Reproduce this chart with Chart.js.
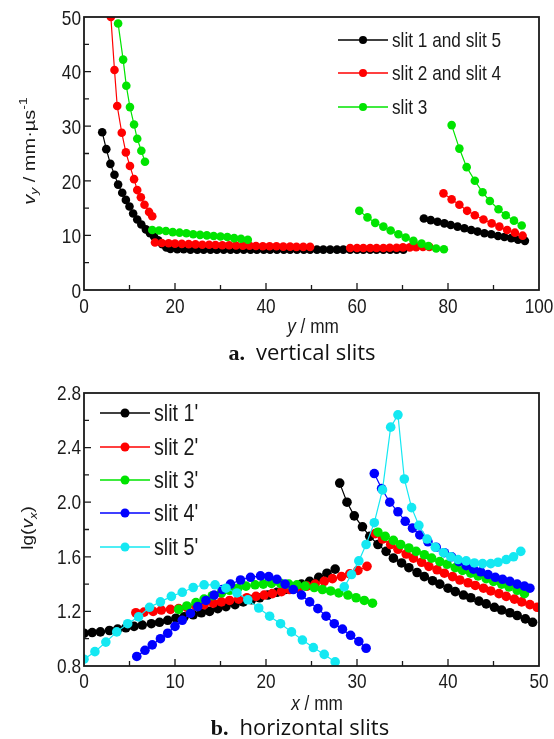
<!DOCTYPE html>
<html><head><meta charset="utf-8">
<script src="https://cdn.jsdelivr.net/npm/chart.js@4.4.1/dist/chart.umd.min.js"></script>
<style>
html,body{margin:0;padding:0;background:#fff;}
body{width:554px;height:739px;position:relative;overflow:hidden;}
canvas{position:absolute;left:0;}
#ca{top:0;}
#cb{top:372px;}
.cap{position:absolute;left:0;width:554px;box-sizing:border-box;text-align:center;font-size:22px;line-height:26px;color:#111;white-space:nowrap;}
.cap b{font-family:"Liberation Serif","DejaVu Serif",serif;font-weight:bold;}
.cap span{font-family:"Open Sans",sans-serif;}
</style></head><body>
<canvas id="ca" width="554" height="340"></canvas>
<canvas id="cb" width="554" height="343"></canvas>
<div class="cap" style="top:338px;padding-left:50px;"><b>a.</b>&nbsp; <span>vertical slits</span></div>
<div class="cap" style="top:713px;padding-left:46px;"><b>b.</b>&nbsp; <span>horizontal slits</span></div>
<script>
// ===== chart a: vertical slits =====
const aTicksX = [0,20,40,60,80,100];
const aTicksY = [0,10,20,30,40,50];
const aNames = ['slit 1 and slit 5','slit 2 and slit 4','slit 3'];
const a1X = [4.0,4.9,5.8,6.7,7.5,8.4,9.2,10.0,10.8,11.7,12.6,13.6,14.5,15.4,16.3,17.2,18.1,
  19.0,20.5,21.9,23.4,24.9,26.3,27.8,29.2,30.7,32.2,33.6,35.1,36.6,38.0,39.5,40.9,42.4,43.9,45.3,46.8,48.3,49.7,51.2,52.6,54.1,55.6,57.0,58.5,60.0,61.4,62.9,64.3,65.8,67.3,68.7,70.2,
  null,
  74.7,76.2,77.7,79.2,80.6,82.1,83.6,85.1,86.5,88.0,89.5,91.0,92.4,93.9,95.4,96.9];
const a1Y = [28.9,25.8,23.1,21.1,19.3,17.8,16.5,15.3,14.0,12.9,12.0,11.1,10.4,9.8,9.1,8.4,7.8,
  7.5,7.45,7.45,7.4,7.4,7.4,7.4,7.4,7.4,7.4,7.4,7.4,7.4,7.4,7.4,7.4,7.4,7.4,7.4,7.4,7.4,7.4,7.4,7.4,7.4,7.4,7.4,7.4,7.4,7.4,7.4,7.4,7.4,7.4,7.4,7.4,
  null,
  13.1,12.8,12.5,12.2,11.9,11.6,11.3,11.0,10.7,10.4,10.2,9.9,9.7,9.5,9.2,9.0];
const a2X = [5.9,6.7,7.3,8.3,9.2,10.1,11.0,11.7,12.5,13.3,14.3,15.0,
  null,
  15.6,17.1,18.6,20.0,21.5,23.0,24.5,26.0,27.5,28.9,30.4,31.9,33.4,34.9,36.4,37.8,39.3,40.8,42.3,43.8,45.3,46.7,48.2,49.7,
  null,
  58.5,60.0,61.4,62.9,64.3,65.8,67.2,68.7,70.1,71.6,73.0,74.5,75.9,
  null,
  79.0,80.8,82.5,84.2,85.9,87.8,89.6,91.3,93.0,94.7,96.4];
const a2Y = [50.0,40.3,33.7,28.8,25.2,22.7,20.3,18.3,17.0,15.6,14.3,13.5,
  null,
  8.7,8.6,8.55,8.5,8.45,8.4,8.35,8.3,8.3,8.25,8.2,8.2,8.15,8.1,8.1,8.05,8.0,8.0,8.0,7.95,7.95,7.9,7.9,7.9,
  null,
  7.7,7.7,7.7,7.7,7.7,7.7,7.75,7.75,7.8,7.8,7.85,7.9,7.9,
  null,
  17.7,16.6,15.6,14.5,13.7,12.9,12.2,11.6,11.0,10.5,9.95];
const a3X = [7.5,8.6,9.3,10.1,11.0,11.7,12.6,13.4,
  null,
  15.0,16.5,18.0,19.5,21.0,22.5,24.0,25.5,27.0,28.5,30.0,31.5,33.0,34.5,36.0,
  null,
  60.5,62.3,64.0,65.8,67.4,69.1,70.7,72.4,74.2,75.7,77.4,79.1,
  null,
  80.8,82.5,84.1,85.9,87.6,89.2,91.1,92.7,94.5,96.2];
const a3Y = [48.8,42.2,37.4,33.5,30.3,27.7,25.5,23.5,
  null,
  11.0,10.9,10.8,10.6,10.5,10.4,10.2,10.1,10.0,9.9,9.8,9.7,9.5,9.4,9.2,
  null,
  14.5,13.3,12.3,11.6,10.9,10.2,9.6,9.0,8.5,8.05,7.6,7.45,
  null,
  30.2,25.9,22.5,20.0,17.9,16.3,14.8,13.7,12.7,11.8];

// ===== chart b: horizontal slits =====
const bTicksX = [0,10,20,30,40,50];
const bTicksY = [0.8,1.2,1.6,2.0,2.4,2.8];
const bNames = ["slit 1'","slit 2'","slit 3'","slit 4'","slit 5'"];
const b1X = [0,0.9,1.8,2.8,3.7,4.6,5.5,6.4,7.4,8.3,9.2,10.1,11.0,12.0,12.9,13.8,14.7,15.6,16.6,17.5,18.4,19.3,20.2,21.2,22.1,23.0,23.9,24.8,25.8,26.7,27.6,
  null,
  28.1,28.9,29.7,30.6,31.4,32.3,33.2,34.0,34.9,35.7,36.6,37.4,38.3,39.1,40.0,40.8,41.7,42.5,43.4,44.2,45.1,45.9,46.8,47.6,48.5,49.3];
const b1Y = [1.04,1.045,1.05,1.06,1.07,1.08,1.09,1.10,1.11,1.12,1.135,1.15,1.16,1.175,1.19,1.20,1.22,1.235,1.25,1.27,1.285,1.30,1.32,1.34,1.36,1.38,1.40,1.42,1.45,1.48,1.51,
  null,
  2.14,2.00,1.90,1.82,1.75,1.69,1.64,1.59,1.555,1.52,1.485,1.455,1.425,1.40,1.37,1.345,1.32,1.30,1.275,1.255,1.23,1.21,1.19,1.17,1.145,1.12];
const b2X = [5.7,6.6,7.6,8.5,9.5,10.4,11.3,12.3,13.2,14.2,15.1,16.0,17.0,17.9,18.9,19.8,20.7,21.7,22.6,23.6,24.5,25.4,26.4,27.3,28.3,29.2,30.1,31.1,
  null,
  32.0,32.8,33.7,34.5,35.4,36.2,37.1,37.9,38.8,39.6,40.5,41.3,42.2,43.0,43.9,44.7,45.6,46.4,47.3,48.1,49.0,49.8];
const b2Y = [1.19,1.195,1.20,1.21,1.215,1.22,1.23,1.24,1.25,1.26,1.27,1.28,1.29,1.30,1.31,1.32,1.33,1.345,1.36,1.37,1.385,1.40,1.42,1.44,1.455,1.475,1.50,1.53,
  null,
  1.77,1.73,1.69,1.655,1.62,1.59,1.56,1.53,1.505,1.48,1.455,1.43,1.41,1.39,1.37,1.35,1.33,1.31,1.29,1.27,1.25,1.23];
const b3X = [10.4,11.3,12.3,13.2,14.1,15.1,16.0,16.9,17.8,18.8,19.7,20.6,21.6,22.5,23.4,24.3,25.3,26.2,27.1,28.0,29.0,29.9,30.8,31.7,
  null,
  32.3,33.1,34.0,34.8,35.7,36.5,37.4,38.2,39.1,39.9,40.8,41.6,42.5,43.3,44.2,45.0,45.9,46.7,47.6,48.4];
const b3Y = [1.215,1.24,1.265,1.29,1.315,1.335,1.355,1.37,1.385,1.395,1.40,1.405,1.405,1.40,1.395,1.385,1.375,1.36,1.35,1.335,1.32,1.30,1.28,1.26,
  null,
  1.78,1.75,1.72,1.69,1.665,1.64,1.615,1.59,1.565,1.545,1.52,1.50,1.48,1.46,1.44,1.42,1.40,1.38,1.355,1.33];
const b4X = [5.8,6.7,7.5,8.4,9.2,10.0,10.8,11.7,12.5,13.4,14.3,15.2,16.1,17.2,18.3,19.4,20.3,21.2,22.1,23.0,23.9,24.8,25.7,26.6,27.5,28.4,29.3,30.2,31.0,
  null,
  31.9,32.7,33.6,34.5,35.3,36.1,36.9,37.8,38.7,39.6,40.4,41.2,42.0,42.8,43.6,44.4,45.2,46.0,46.8,47.6,48.4,49.0];
const b4Y = [0.87,0.915,0.955,1.0,1.04,1.09,1.135,1.185,1.235,1.28,1.32,1.36,1.40,1.43,1.45,1.46,1.455,1.435,1.40,1.36,1.32,1.27,1.22,1.165,1.11,1.07,1.025,0.98,0.93,
  null,
  2.21,2.10,2.00,1.93,1.86,1.81,1.76,1.71,1.67,1.63,1.60,1.565,1.535,1.51,1.49,1.47,1.45,1.435,1.42,1.40,1.385,1.37];
const b5X = [0,1.2,2.4,3.6,4.8,6.0,7.2,8.4,9.6,10.8,12.0,13.2,14.4,15.6,16.8,18.0,19.2,20.4,21.6,22.8,24.0,25.2,26.4,27.6,
  null,
  28.6,29.4,30.2,31.0,31.9,32.8,33.7,34.5,35.2,36.0,36.8,37.7,38.6,39.5,40.3,41.1,42.0,42.9,43.8,44.7,45.5,46.4,47.2,48.0];
const b5Y = [0.85,0.905,0.975,1.05,1.11,1.16,1.23,1.27,1.31,1.34,1.375,1.395,1.395,1.37,1.335,1.285,1.225,1.165,1.11,1.05,0.99,0.935,0.885,0.83,
  null,
  1.38,1.47,1.57,1.69,1.85,2.09,2.55,2.64,2.17,1.96,1.83,1.73,1.67,1.63,1.60,1.58,1.57,1.555,1.55,1.55,1.56,1.58,1.60,1.64];

// ===== styles =====
const aColors = ['#000000','#ff0000','#00e400'];
const bColors = ['#000000','#ff0000','#00e400','#0000ff','#14e8f2'];
const SANS = '"Liberation Sans",Arial,sans-serif';
const SQUEEZE = 0.82;
const INK = '#1a1a1a';

function series(X, Y) {
  return X.map((x, i) => ({ x: x === null ? X[i - 1] : x, y: Y[i] }));
}

function makeDatasets(pairs, names, colors, r) {
  const n = pairs.length;
  return pairs.map(([X, Y], i) => ({
    label: names[i], data: series(X, Y), showLine: true, spanGaps: false, tension: 0,
    borderColor: colors[i], backgroundColor: colors[i], borderWidth: 1.2,
    pointRadius: r, pointHoverRadius: r, pointBorderWidth: 0, order: n - i
  }));
}

// text drawn with the figure's vertical stretch (narrow horizontally)
function drawRich(ctx, parts, cx, cy, rot, size, align) {
  ctx.save();
  ctx.translate(cx, cy);
  if (rot) { ctx.rotate(-Math.PI / 2); ctx.scale(1, SQUEEZE); }
  else ctx.scale(SQUEEZE, 1);
  const small = k => k.includes('sub') || k.includes('sup');
  const fontFor = k => (k.includes('i') ? 'italic ' : '') + (small(k) ? Math.round(size * 0.7) : size) + 'px ' + SANS;
  let w = 0;
  parts.forEach(p => { ctx.font = fontFor(p[1]); w += ctx.measureText(p[0]).width; });
  let px = align === 'left' ? 0 : align === 'right' ? -w : -w / 2;
  ctx.textBaseline = 'middle';
  ctx.textAlign = 'left';
  ctx.fillStyle = INK;
  parts.forEach(p => {
    ctx.font = fontFor(p[1]);
    const dy = p[1].includes('sub') ? size * 0.3 : p[1].includes('sup') ? -size * 0.4 : 0;
    ctx.fillText(p[0], px, dy);
    px += ctx.measureText(p[0]).width;
  });
  ctx.restore();
}

const framePlugin = {
  id: 'frameTicks',
  afterDatasetsDraw(chart, args, o) {
    const { ctx, chartArea: a, scales: { x, y } } = chart;
    ctx.save();
    ctx.strokeStyle = INK;
    ctx.lineWidth = 1.3;
    const mids = t => t.slice(0, -1).map((v, i) => (v + t[i + 1]) / 2);
    const xt = x.ticks.map(t => t.value), yt = y.ticks.map(t => t.value);
    ctx.beginPath();
    xt.slice(1, -1).forEach(v => { const p = x.getPixelForValue(v); ctx.moveTo(p, a.bottom); ctx.lineTo(p, a.bottom - o.major); });
    mids(xt).forEach(v => { const p = x.getPixelForValue(v); ctx.moveTo(p, a.bottom); ctx.lineTo(p, a.bottom - o.minor); });
    yt.slice(1, -1).forEach(v => { const p = y.getPixelForValue(v); ctx.moveTo(a.left, p); ctx.lineTo(a.left + o.major, p); });
    mids(yt).forEach(v => { const p = y.getPixelForValue(v); ctx.moveTo(a.left, p); ctx.lineTo(a.left + o.minor, p); });
    ctx.stroke();
    ctx.lineWidth = 1.8;
    ctx.strokeRect(a.left, a.top, a.right - a.left, a.bottom - a.top);
    ctx.restore();
    // tick labels from the library's scales
    x.ticks.forEach(t => drawRich(ctx, [[x.options.ticks.callback(t.value), 'n']], x.getPixelForValue(t.value), a.bottom + o.xLab, false, o.size, 'center'));
    y.ticks.forEach(t => drawRich(ctx, [[y.options.ticks.callback(t.value), 'n']], a.left - o.yLab, y.getPixelForValue(t.value) + o.yDy, false, o.size, 'right'));
  }
};

const titlePlugin = {
  id: 'richTitles',
  afterDraw(chart, args, o) {
    o.items.forEach(t => drawRich(chart.ctx, t.parts, t.cx, t.cy, t.rot, t.size, 'center'));
  }
};

const legendPlugin = {
  id: 'lineLegend',
  afterDraw(chart, args, o) {
    const ctx = chart.ctx;
    ctx.save();
    chart.data.datasets.forEach((d, i) => {
      const y = o.ys[i];
      ctx.strokeStyle = d.borderColor; ctx.lineWidth = 1.5;
      ctx.beginPath(); ctx.moveTo(o.x0, y); ctx.lineTo(o.x1, y); ctx.stroke();
      ctx.fillStyle = d.backgroundColor;
      ctx.beginPath(); ctx.arc((o.x0 + o.x1) / 2, y, o.r, 0, Math.PI * 2); ctx.fill();
      drawRich(ctx, [[d.label, 'n']], o.tx, y + 1, false, o.size, 'left');
    });
    ctx.restore();
  }
};

function axis(ticksArr, fmt, fit) {
  return {
    type: 'linear', min: ticksArr[0], max: ticksArr[ticksArr.length - 1],
    grid: { display: false, drawTicks: false }, border: { display: false },
    ticks: { display: false, callback: fmt },
    afterBuildTicks: s => { s.ticks = ticksArr.map(v => ({ value: v })); },
    afterFit: fit
  };
}

function makeChart(id, cfg) {
  return new Chart(document.getElementById(id), {
    type: 'scatter',
    data: { datasets: cfg.datasets },
    options: {
      responsive: false, animation: false, devicePixelRatio: 1,
      layout: { padding: { left: 0, right: cfg.padR, top: cfg.padT, bottom: 0 } },
      events: [],
      plugins: {
        legend: { display: false }, tooltip: { enabled: false },
        frameTicks: cfg.frame,
        richTitles: { items: cfg.titles },
        lineLegend: cfg.legend
      },
      scales: {
        x: axis(cfg.xTicks, v => String(v), s => { s.height = cfg.xH; s.paddingLeft = 0; s.paddingRight = 0; }),
        y: axis(cfg.yTicks, cfg.yFmt, s => { s.width = cfg.yW; s.paddingTop = 0; s.paddingBottom = 0; })
      }
    },
    plugins: [framePlugin, titlePlugin, legendPlugin]
  });
}

makeChart('ca', {
  datasets: makeDatasets([[a1X, a1Y], [a2X, a2Y], [a3X, a3Y]], aNames, aColors, 4.3),
  xTicks: aTicksX, yTicks: aTicksY, yFmt: v => String(v),
  padR: 15, padT: 17, xH: 50, yW: 84,
  frame: { major: 7, minor: 5, size: 21, xLab: 17, yLab: 3, yDy: 2 },
  titles: [
    { parts: [['v', 'i'], ['y', 'isub'], [' / mm·µs', 'n'], ['-1', 'sup']], cx: 30, cy: 151, rot: true, size: 20 },
    { parts: [['y', 'i'], [' / mm', 'n']], cx: 313, cy: 327, rot: false, size: 21 }
  ],
  legend: { x0: 338, x1: 388, tx: 392, ys: [40, 73, 107], size: 21, r: 4 }
});

makeChart('cb', {
  datasets: makeDatasets([[b1X, b1Y], [b2X, b2Y], [b3X, b3Y], [b4X, b4Y], [b5X, b5Y]], bNames, bColors, 4.8),
  xTicks: bTicksX, yTicks: bTicksY, yFmt: v => v.toFixed(1),
  padR: 15, padT: 21, xH: 49, yW: 84,
  frame: { major: 7, minor: 5, size: 21, xLab: 16, yLab: 3, yDy: 1 },
  titles: [
    { parts: [['lg(', 'n'], ['v', 'i'], ['x', 'isub'], [')', 'n']], cx: 29, cy: 156, rot: true, size: 19 },
    { parts: [['x', 'i'], [' / mm', 'n']], cx: 317, cy: 332, rot: false, size: 21 }
  ],
  legend: { x0: 100, x1: 150, tx: 154, ys: [41, 75, 108, 141, 175], size: 24, r: 4.5 }
});
</script>
</body></html>
